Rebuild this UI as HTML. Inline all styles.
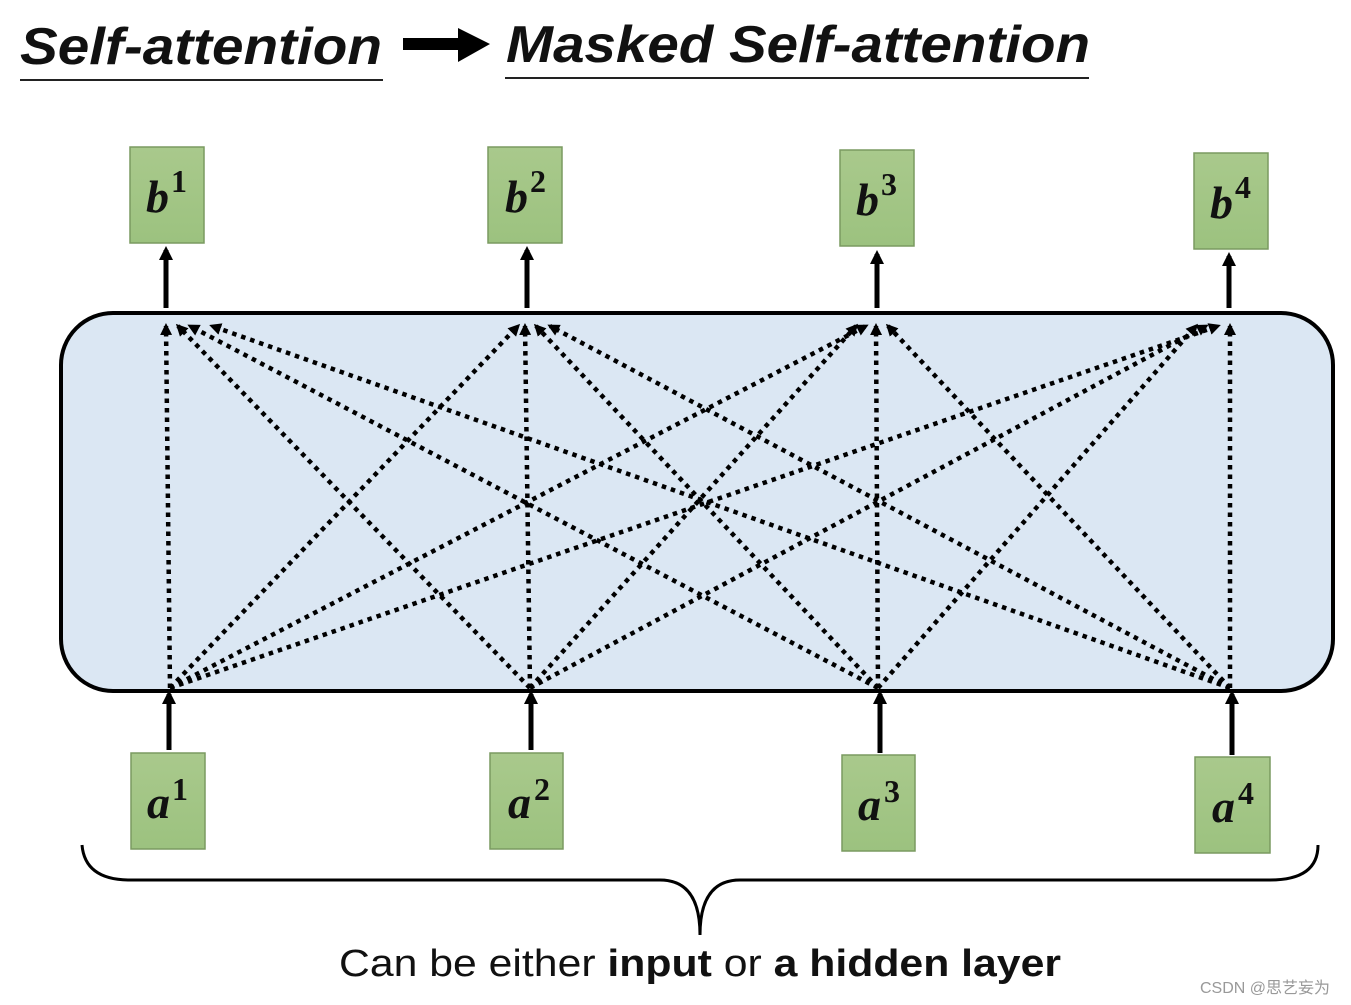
<!DOCTYPE html>
<html><head><meta charset="utf-8"><style>
html,body{margin:0;padding:0;background:#fff;}
svg{display:block}
</style></head><body>
<svg width="1351" height="1005" viewBox="0 0 1351 1005" xmlns="http://www.w3.org/2000/svg">
<defs>
<marker id="ah" markerWidth="12" markerHeight="12" refX="9" refY="6" orient="auto" markerUnits="userSpaceOnUse" viewBox="0 0 12 12">
<path d="M0,0 L12,6 L0,12 z" fill="#000"/></marker>
<marker id="ah2" markerWidth="14" markerHeight="14" refX="10" refY="7" orient="auto" markerUnits="userSpaceOnUse" viewBox="0 0 14 14">
<path d="M0,0 L14,7 L0,14 z" fill="#000"/></marker>
<linearGradient id="g" x1="0" y1="0" x2="0" y2="1"><stop offset="0" stop-color="#a9c98c"/><stop offset="1" stop-color="#9cc27f"/></linearGradient>
</defs>
<g font-family="Liberation Sans, sans-serif" font-weight="bold" font-style="italic" fill="#111">
<text x="20" y="64" font-size="52" textLength="362" lengthAdjust="spacingAndGlyphs">Self-attention</text>
<text x="506" y="62" font-size="52" textLength="584" lengthAdjust="spacingAndGlyphs">Masked Self-attention</text>
</g>
<line x1="20" y1="80" x2="383" y2="80" stroke="#222" stroke-width="2"/>
<line x1="505" y1="78" x2="1089" y2="78" stroke="#222" stroke-width="2"/>
<line x1="403" y1="44" x2="460" y2="44" stroke="#000" stroke-width="12"/>
<path d="M458,28 L490,44 L458,62 z" fill="#000"/>
<rect x="61" y="313" width="1272" height="378" rx="52" fill="#dbe7f3" stroke="#000" stroke-width="4"/>
<g stroke="#000" stroke-width="4.5" stroke-dasharray="4.5,5" marker-end="url(#ah)">
<line x1="170" y1="688" x2="166" y2="326"/><line x1="170" y1="688" x2="518" y2="326"/><line x1="170" y1="688" x2="866" y2="326"/><line x1="170" y1="688" x2="1218" y2="326"/>
<line x1="530" y1="688" x2="178" y2="326"/><line x1="530" y1="688" x2="525" y2="326"/><line x1="530" y1="688" x2="856" y2="326"/><line x1="530" y1="688" x2="1206" y2="326"/>
<line x1="878" y1="688" x2="190" y2="326"/><line x1="878" y1="688" x2="536" y2="326"/><line x1="878" y1="688" x2="876" y2="326"/><line x1="878" y1="688" x2="1196" y2="326"/>
<line x1="1230" y1="688" x2="212" y2="326"/><line x1="1230" y1="688" x2="550" y2="326"/><line x1="1230" y1="688" x2="888" y2="326"/><line x1="1230" y1="688" x2="1230" y2="326"/>
</g>
<g stroke="#000" stroke-width="5" marker-end="url(#ah2)">
<line x1="166" y1="308" x2="166" y2="250"/><line x1="527" y1="308" x2="527" y2="250"/><line x1="877" y1="308" x2="877" y2="254"/><line x1="1229" y1="308" x2="1229" y2="256"/>
<line x1="169" y1="750" x2="169" y2="694"/><line x1="531" y1="750" x2="531" y2="694"/><line x1="880" y1="753" x2="880" y2="694"/><line x1="1232" y1="755" x2="1232" y2="694"/>
</g>
<g stroke="#7a9a60" stroke-width="1.5" fill="url(#g)">
<rect x="130" y="147" width="74" height="96"/><rect x="488" y="147" width="74" height="96"/><rect x="840" y="150" width="74" height="96"/><rect x="1194" y="153" width="74" height="96"/>
<rect x="131" y="753" width="74" height="96"/><rect x="490" y="753" width="73" height="96"/><rect x="842" y="755" width="73" height="96"/><rect x="1195" y="757" width="75" height="96"/>
</g>
<g font-family="Liberation Serif, serif" font-weight="bold" fill="#111">
<g font-style="italic" font-size="46">
<text x="146" y="212">b</text><text x="505" y="212">b</text><text x="856" y="215">b</text><text x="1210" y="218">b</text>
<text x="147" y="818">a</text><text x="508" y="818">a</text><text x="858" y="820">a</text><text x="1212" y="822">a</text>
</g>
<g font-size="32">
<text x="171" y="192">1</text><text x="530" y="192">2</text><text x="881" y="195">3</text><text x="1235" y="198">4</text>
<text x="172" y="800">1</text><text x="534" y="800">2</text><text x="884" y="802">3</text><text x="1238" y="804">4</text>
</g>
</g>
<path d="M82,845 Q85,880 130,880 L660,880 Q700,880 700,935 Q700,880 740,880 L1270,880 Q1318,880 1318,845" fill="none" stroke="#000" stroke-width="3"/>
<text x="339" y="976" font-family="Liberation Sans, sans-serif" font-size="38" fill="#111" textLength="722" lengthAdjust="spacingAndGlyphs">Can be either <tspan font-weight="bold">input</tspan> or <tspan font-weight="bold">a hidden layer</tspan></text>
<text x="1200" y="993" font-family="Liberation Sans, 'Noto Sans CJK SC', sans-serif" font-size="16" fill="#999">CSDN @思艺妄为</text>
</svg>
</body></html>
